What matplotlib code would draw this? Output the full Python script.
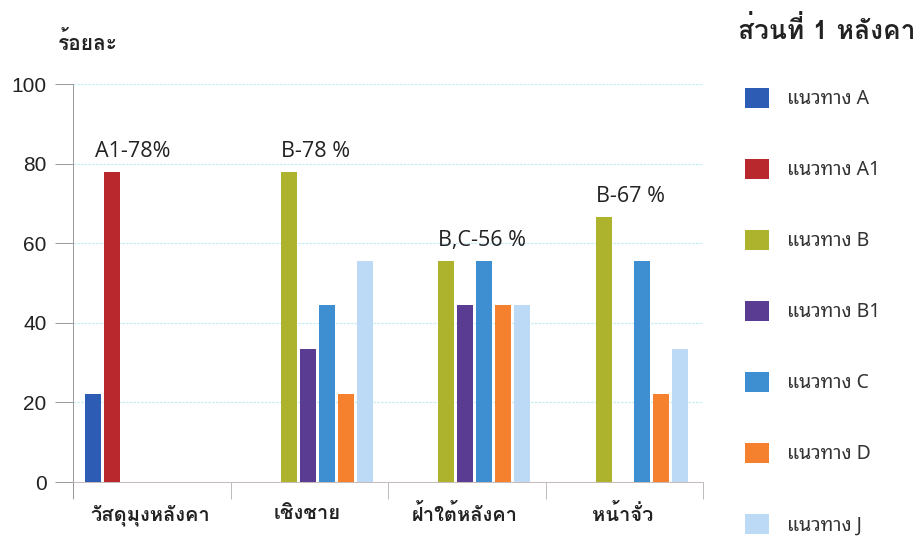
import matplotlib
matplotlib.use("Agg")
import matplotlib.pyplot as plt
import numpy as np

categories = ["วัสดุมุงหลังคา", "เชิงชาย", "ฝ้าใต้หลังคา", "หน้าจั่ว"]
series_names = ["แนวทาง A", "แนวทาง A1", "แนวทาง B", "แนวทาง B1",
                "แนวทาง C", "แนวทาง D", "แนวทาง J"]
values_A  = [22.2, 0, 0, 0]
values_A1 = [77.8, 0, 0, 0]
values_B  = [0, 77.8, 55.6, 66.7]
values_B1 = [0, 33.3, 44.4, 0]
values_C  = [0, 44.4, 55.6, 55.6]
values_D  = [0, 22.2, 44.4, 22.2]
values_J  = [0, 55.6, 44.4, 33.3]
all_values = [values_A, values_A1, values_B, values_B1, values_C, values_D, values_J]
colors = ["#2d5cb4", "#b8282c", "#aeb32e", "#5a3c93", "#3d8fd2", "#f5812e", "#bcdaf6"]

annot_texts = ["A1-78%", "B-78 %", "B,C-56 %", "B-67 %"]
annot_series = [1, 2, 2, 2]
ylabel_text = "ร้อยละ"
legend_title = "ส่วนที่ 1 หลังคา"
yticks = [0, 20, 40, 60, 80, 100]

thai_bold = ["Loma", "DejaVu Sans"]
thai = ["Noto Sans Thai Looped", "Loma", "DejaVu Sans"]
plt.rcParams['font.family'] = ["Liberation Sans", "Loma", "DejaVu Sans"]

fig = plt.figure(figsize=(9.23, 5.37), dpi=100)
ax = fig.add_axes([73/923, 1-482/537, 630/923, 398/537])

n = len(all_values)
step = 0.1206
width = 0.102
centers = np.arange(len(categories)) + 0.49
bars = []
for i, (vals, name, c) in enumerate(zip(all_values, series_names, colors)):
    b = ax.bar(centers + (i - (n - 1) / 2) * step, vals, width=width,
               color=c, label=name, zorder=3)
    bars.append(b)

for k, (txt, si) in enumerate(zip(annot_texts, annot_series)):
    rect = bars[si][k]
    x = rect.get_x()
    if si == 1:
        x -= 0.055
    ax.text(x, rect.get_height() + 2.5, txt, ha='left', va='bottom',
            fontsize=15.5, family=["Open Sans", "DejaVu Sans"], color="#222222")

ax.set_xlim(0, len(categories))
ax.set_ylim(0, 100)
ax.set_yticks(yticks)
ax.set_yticklabels([str(v) for v in yticks], fontsize=15, color="#222222")
ax.tick_params(axis='y', length=13, width=0.7, color="#999999", pad=6)
ax.set_xticks(np.arange(len(categories) + 1))
ax.set_xticklabels([])
ax.set_xticks(centers, minor=True)
ax.set_xticklabels(categories, minor=True, fontsize=14.5, fontweight='bold',
                   family=thai_bold, color="#222222")
ax.tick_params(axis='x', which='major', length=12, width=0.7, color="#bbbbbb",
               direction='out')
ax.tick_params(axis='x', which='minor', length=0, pad=16)
ax.spines['top'].set_visible(False)
ax.spines['right'].set_visible(False)
ax.spines['left'].set_color("#999999")
ax.spines['left'].set_linewidth(0.7)
ax.spines['left'].set_bounds(0, 100)
ax.spines['bottom'].set_color("#c8b8b8")
ax.spines['bottom'].set_linewidth(0.7)
ax.yaxis.grid(True, color="#c6ecf4", linestyle=(0, (2, 1)), linewidth=0.9, zorder=0)
ax.set_axisbelow(True)

ax.plot([0, 0], [0, -4], color="#999999", lw=0.7, clip_on=False)

fig.text(58/923, 1-43/537, ylabel_text, fontsize=15, fontweight='bold',
         family=thai_bold, va='center', ha='left', color="#222222")
fig.text(738/923, 1-30/537, legend_title, fontsize=19, fontweight='bold',
         family=thai_bold, va='center', ha='left', color="#222222")

leg = fig.legend(handles=bars, labels=series_names, loc='upper left',
                 bbox_to_anchor=(729/923, 1-72/537), frameon=False,
                 handlelength=1.25, handleheight=1.25,
                 labelspacing=2.53, handletextpad=0.95, borderpad=0.3,
                 prop={'family': thai, 'size': 14})
for t in leg.get_texts():
    t.set_color("#333333")

fig.savefig("out.png", dpi=100)
